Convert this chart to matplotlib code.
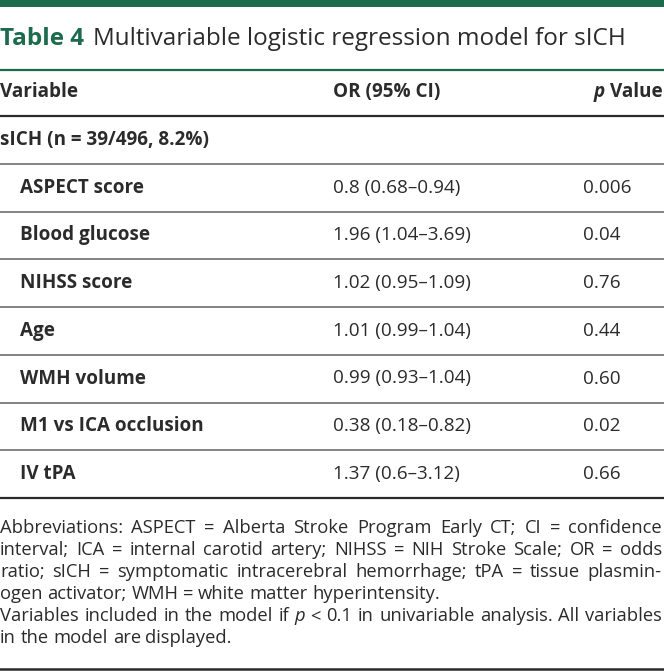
import matplotlib.pyplot as plt

plt.rcParams['font.family'] = ['Open Sans', 'DejaVu Sans']

# Table content
title_label = "Table 4"
title_text = "Multivariable logistic regression model for sICH"
col_headers = ["Variable", "OR (95% CI)", "Value"]
group_label = "sICH (n = 39/496, 8.2%)"
variables = ["ASPECT score", "Blood glucose", "NIHSS score", "Age",
             "WMH volume", "M1 vs ICA occlusion", "IV tPA"]
odds_ratios = ["0.8 (0.68\u20130.94)", "1.96 (1.04\u20133.69)", "1.02 (0.95\u20131.09)",
               "1.01 (0.99\u20131.04)", "0.99 (0.93\u20131.04)", "0.38 (0.18\u20130.82)",
               "1.37 (0.6\u20133.12)"]
p_values = ["0.006", "0.04", "0.76", "0.44", "0.60", "0.02", "0.66"]
footnote_lines = [
    "Abbreviations: ASPECT = Alberta Stroke Program Early CT; CI = confidence",
    "interval; ICA = internal carotid artery; NIHSS = NIH Stroke Scale; OR = odds",
    "ratio; sICH = symptomatic intracerebral hemorrhage; tPA = tissue plasmin-",
    "ogen activator; WMH = white matter hyperintensity.",
    "Variables included in the model if p < 0.1 in univariable analysis. All variables",
    "in the model are displayed.",
]
justify = [True, True, True, False, True, False]

green = "#1c6b4d"
dark = "#2b2b2b"
grey_line = "#7a7a7a"

W, H = 664, 672
fig = plt.figure(figsize=(W / 100, H / 100), dpi=100)
ax = fig.add_axes([0, 0, 1, 1])
ax.set_xlim(0, W)
ax.set_ylim(H, 0)
ax.axis("off")
r = fig.canvas.get_renderer()

# top bar and title
ax.axhspan(0, 7, color=green, lw=0)
t1 = ax.text(0, 39, title_label, color=green, fontsize=17.5, fontweight="bold", va="center")
bb = t1.get_window_extent(r)
ax.text(bb.x1 + 9, 39, title_text, color=dark, fontsize=17.5, va="center")
ax.axhline(70, color=green, lw=1.6)

# header
body = 13.6
ax.text(0, 92, col_headers[0], fontsize=body, fontweight="bold", color=dark, va="center")
ax.text(333, 92, col_headers[1], fontsize=body, fontweight="bold", color=dark, va="center")
hv = ax.text(663, 92, col_headers[2], fontsize=body, fontweight="bold", color=dark,
             va="center", ha="right")
bb = hv.get_window_extent(r)
ax.text(bb.x0 - 5, 92, "p", fontsize=body, fontweight="bold", style="italic", color=dark,
        va="center", ha="right")
ax.axhline(116, color=dark, lw=1.6)

# group row
row_h = 47.7
y0 = 140
ax.text(0, y0, group_label, fontsize=body, fontweight="bold", color=dark, va="center")
ax.axhline(y0 + 24, color=grey_line, lw=1.3)

for i, (v, orv, pv) in enumerate(zip(variables, odds_ratios, p_values)):
    y = y0 + (i + 1) * row_h
    ax.text(20, y, v, fontsize=body, fontweight="bold", color=dark, va="center")
    ax.text(333, y, orv, fontsize=body, color=dark, va="center")
    ax.text(583, y, pv, fontsize=body, color=dark, va="center")
    last = i == len(variables) - 1
    ax.axhline(y + 24, color=dark if last else grey_line, lw=1.6 if last else 1.3)

# footnote, justified word by word
fn_size = 13.2
fy = 528
for line, just in zip(footnote_lines, justify):
    words = line.split(" ")
    arts = [ax.text(0, fy, w, fontsize=fn_size, color=dark, va="center",
                    style="italic" if w == "p" else "normal") for w in words]
    widths = [a.get_window_extent(r).width for a in arts]
    space = ax.text(0, 0, "a a", fontsize=fn_size).get_window_extent(r).width - \
        2 * ax.text(0, 0, "a", fontsize=fn_size).get_window_extent(r).width
    gap = (662 - sum(widths)) / (len(words) - 1) if just else space
    x = 0
    for a, w in zip(arts, widths):
        a.set_x(x)
        x += w + gap
    fy += 22
for t in ax.texts[:]:
    if t.get_position() == (0, 0):
        t.remove()

ax.axhline(669, color=dark, lw=1.8)

fig.savefig("out.png", dpi=100)
